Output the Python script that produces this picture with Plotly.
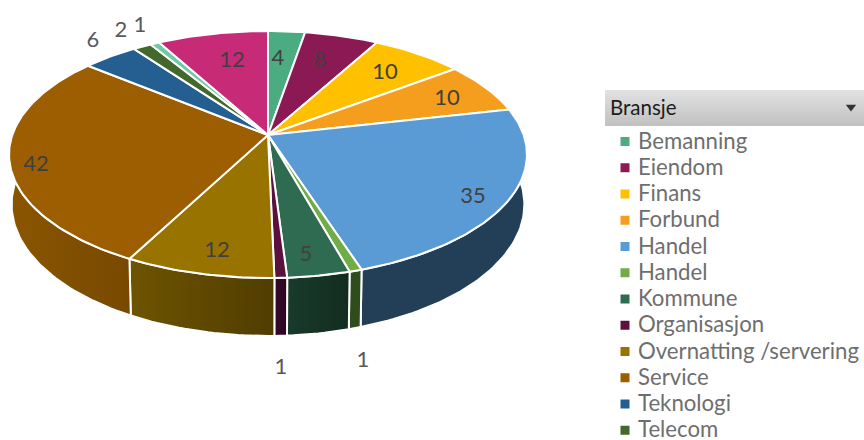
import math
import plotly.graph_objects as go

# ---- data ----
slice_values = [4, 8, 10, 10, 35, 1, 5, 1, 12, 42, 6, 2, 1, 12]
legend_categories = ["Bemanning", "Eiendom", "Finans", "Forbund", "Handel", "Handel", "Kommune",
                     "Organisasjon", "Overnatting /servering", "Service", "Teknologi", "Telecom"]
legend_title = "Bransje"

# ---- styles ----
top_colors = ["#4bac82", "#8b1a54", "#ffc000", "#f59e1e", "#5b9bd5", "#70ad47", "#2e6b50",
              "#5a123c", "#997300", "#9c5e00", "#255e91", "#43682b", "#6fc9a7", "#c72a77"]
wall_left = {4: "#233f57", 5: "#2f4c1c", 6: "#183b2b", 7: "#35092a", 8: "#6e5400", 9: "#8a5500", 10: "#1b4569"}
wall_right = {4: "#233f57", 5: "#2f4c1c", 6: "#122c20", 7: "#2c0720", 8: "#503d00", 9: "#774900", 10: "#1b4569"}
label_pos = [(278, 59.5), (320, 61.5), (385, 73.5), (447, 99.5), (473, 197.5), (363, 361.5), (306, 255.5),
             (281, 368.5), (217, 251.5), (36, 165.5), (93, 41.5), (121, 31.5), (140, 26.5), (232, 61.5)]
label_col = ["#404040"] * 5 + ["#595959", "#404040", "#595959", "#404040", "#404040",
                               "#595959", "#595959", "#595959", "#404040"]

CX, CY, R, A, K, DEPTH, SHRINK = 268.0, 135.0, 255.7, 120.4, 0.158, 48.8, 0.99


def project(theta, r=1.0):
    x, y = r * math.sin(theta), r * math.cos(theta)
    s = 1 / (1 + K * y)
    return CX + R * x * s, CY - A * y * s, s


def lower(theta):
    px, py, s = project(theta)
    return CX + (px - CX) * SHRINK, py + DEPTH * s


total = sum(slice_values)
fig = go.Figure()

edges = [0.0]
for v in slice_values:
    edges.append(edges[-1] + v / total * 2 * math.pi)

# walls (near side only; top faces cover anything else)
for i, (a, b) in enumerate(zip(edges[:-1], edges[1:])):
    if i not in wall_left:
        continue
    a2, b2 = max(a, math.radians(85)), min(b, math.radians(275))
    n = max(2, int((b2 - a2) / 0.02))
    ts = [a2 + (b2 - a2) * j / n for j in range(n + 1)]
    xs = [project(t)[0] for t in ts] + [lower(t)[0] for t in reversed(ts)]
    ys = [project(t)[1] for t in ts] + [lower(t)[1] for t in reversed(ts)]
    fig.add_trace(go.Scatter(x=xs + xs[:1], y=ys + ys[:1], mode="lines", fill="toself",
                             line=dict(color="#ffffff", width=2),
                             fillgradient=dict(type="horizontal",
                                               colorscale=[[0, wall_left[i]], [1, wall_right[i]]]),
                             hoverinfo="skip", showlegend=False))

# top faces
for i, (a, b) in enumerate(zip(edges[:-1], edges[1:])):
    n = max(2, int((b - a) / 0.015))
    ts = [a + (b - a) * j / n for j in range(n + 1)]
    xs = [CX] + [project(t)[0] for t in ts] + [CX]
    ys = [CY] + [project(t)[1] for t in ts] + [CY]
    fig.add_trace(go.Scatter(x=xs, y=ys, mode="lines", fill="toself", fillcolor=top_colors[i],
                             line=dict(color="#ffffff", width=2),
                             hoverinfo="skip", showlegend=False))

# data labels
fig.add_trace(go.Scatter(x=[p[0] for p in label_pos], y=[p[1] for p in label_pos], mode="text",
                         text=[str(v) for v in slice_values],
                         textfont=dict(family="Lato", size=22, color=label_col),
                         hoverinfo="skip", showlegend=False))

# legend panel
hx = [605, 864, 864, 605, 605]
hy = [90, 90, 126, 126, 90]
fig.add_trace(go.Scatter(x=hx, y=hy, mode="lines", fill="toself", line=dict(width=0),
                         fillgradient=dict(type="vertical",
                                           colorscale=[[0, "#c0c0c0"], [1, "#e2e2e2"]]),
                         hoverinfo="skip", showlegend=False))
fig.add_trace(go.Scatter(x=[610], y=[110], mode="text", text=[legend_title], textposition="middle right",
                         textfont=dict(family="Lato", size=20.5, color="#1c1c1c"),
                         hoverinfo="skip", showlegend=False))
fig.add_trace(go.Scatter(x=[851], y=[107], mode="markers",
                         marker=dict(symbol="triangle-down", size=9, color="#333333"),
                         hoverinfo="skip", showlegend=False))
rows = list(range(len(legend_categories)))
marker_y = [141.5 + 26.25 * r for r in rows]
text_y = [143 + 26.25 * r for r in rows]
fig.add_trace(go.Scatter(x=[625] * len(rows), y=marker_y, mode="markers",
                         marker=dict(symbol="square", size=9, color=top_colors[:len(rows)]),
                         hoverinfo="skip", showlegend=False))
fig.add_trace(go.Scatter(x=[638] * len(rows), y=text_y, mode="text", text=legend_categories,
                         textposition="middle right",
                         textfont=dict(family="Lato", size=22.2, color="#6e6e6e"),
                         hoverinfo="skip", showlegend=False))

fig.update_layout(width=864, height=440, margin=dict(l=0, r=0, t=0, b=0),
                  paper_bgcolor="#ffffff", plot_bgcolor="#ffffff", showlegend=False,
                  xaxis=dict(range=[0, 864], visible=False, fixedrange=True),
                  yaxis=dict(range=[440, 0], visible=False, fixedrange=True))
fig.write_html("out.html", config={"displayModeBar": False},
               post_script="document.body.style.margin='0';document.body.style.overflow='hidden';")
